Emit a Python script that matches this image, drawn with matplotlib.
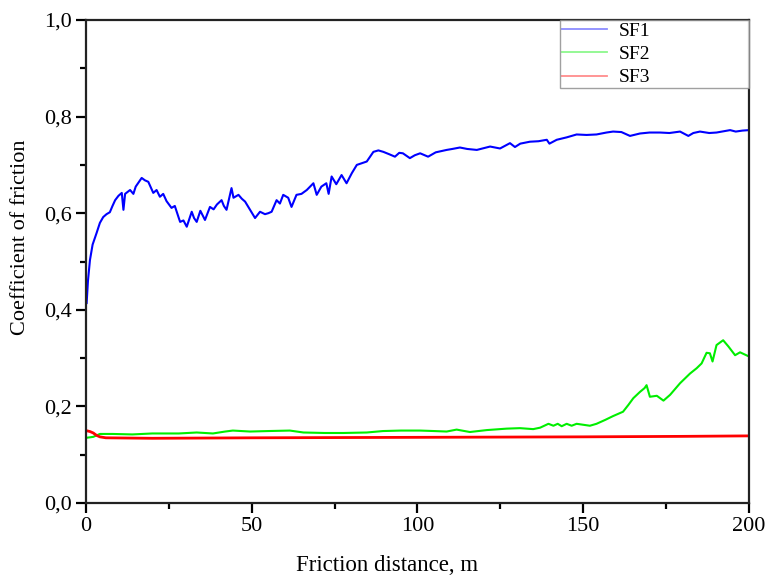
import matplotlib
matplotlib.use("Agg")
import matplotlib.pyplot as plt
from matplotlib.lines import Line2D
from matplotlib.ticker import FuncFormatter, MultipleLocator

# Data
sf1_x = [0.2, 0.6, 1.2, 2.0, 3.2, 4.2, 5.2, 6.2, 7.2, 8.0, 8.8, 9.8, 10.8, 11.3, 11.8,
         13.3, 14.3, 15.0, 16.8, 17.8, 18.8, 20.3, 21.3, 22.3, 23.3, 24.3, 25.8, 26.8,
         28.0, 28.4, 29.4, 30.4, 31.9, 32.6, 33.4, 34.5, 35.9, 37.4, 38.5, 39.5, 40.9,
         41.6, 42.4, 43.9, 44.5, 46.0, 47.0, 48.0, 49.5, 51.0, 52.5, 54.0, 55.0, 56.0,
         57.5, 58.5, 59.5, 61.0, 62.0, 63.5, 65.0, 66.6, 68.6, 69.6, 71.0, 72.5, 73.2,
         74.1, 75.5, 77.1, 78.6, 80.2, 81.7, 83.0, 84.7, 86.7, 88.2, 89.7, 91.5, 93.2,
         94.5, 95.6, 97.7, 99.2, 100.8, 103.2, 105.5, 108.8, 110.5, 112.8, 115.0, 117.9,
         121.9, 124.9, 127.9, 129.4, 131.0, 133.9, 136.5, 139.0, 139.8, 142.0, 145.0,
         148.0, 151.0, 154.0, 157.0, 159.0, 161.5, 164.1, 167.1, 170.0, 173.2, 176.0,
         179.2, 181.7, 183.2, 185.2, 188.0, 190.2, 194.3, 196.0, 198.0, 200.0]
sf1_y = [0.414, 0.46, 0.503, 0.535, 0.559, 0.580, 0.592, 0.598, 0.602, 0.615, 0.627,
         0.636, 0.642, 0.607, 0.640, 0.648, 0.640, 0.655, 0.673, 0.668, 0.665, 0.642,
         0.648, 0.634, 0.640, 0.625, 0.611, 0.615, 0.590, 0.582, 0.585, 0.572, 0.603,
         0.590, 0.582, 0.605, 0.586, 0.613, 0.608, 0.618, 0.627, 0.615, 0.607, 0.652,
         0.632, 0.638, 0.630, 0.624, 0.607, 0.590, 0.603, 0.598, 0.600, 0.603, 0.627,
         0.620, 0.638, 0.632, 0.613, 0.638, 0.640, 0.648, 0.662, 0.638, 0.655, 0.662,
         0.640, 0.676, 0.660, 0.679, 0.662, 0.683, 0.700, 0.703, 0.707, 0.727, 0.730,
         0.727, 0.722, 0.717, 0.725, 0.724, 0.714, 0.720, 0.724, 0.717, 0.726, 0.731,
         0.733, 0.736, 0.733, 0.731, 0.738, 0.734, 0.745, 0.737, 0.744, 0.748, 0.749,
         0.752, 0.744, 0.752, 0.757, 0.763, 0.762, 0.763, 0.767, 0.769, 0.768, 0.760,
         0.765, 0.767, 0.767, 0.766, 0.769, 0.760, 0.766, 0.769, 0.766, 0.767, 0.772,
         0.769, 0.771, 0.772]

sf2_x = [0.0, 1.2, 2.2, 3.2, 4.2, 8.0, 14.0, 20.0, 28.0, 33.4, 38.3, 42.0, 44.3, 49.5,
         55.0, 61.5, 65.6, 72.0, 77.6, 84.7, 89.6, 95.0, 100.8, 105.0, 108.8, 111.8,
         115.8, 120.9, 126.9, 130.9, 134.9, 137.0, 139.5, 141.0, 142.3, 143.5, 145.0,
         146.5, 148.0, 150.0, 152.0, 154.0, 156.6, 159.0, 162.0, 163.6, 165.1, 167.1,
         168.5, 169.1, 170.1, 172.2, 174.2, 176.2, 179.2, 182.2, 184.2, 185.7, 187.2,
         188.2, 189.0, 190.2, 192.2, 193.8, 195.8, 197.3, 199.8]
sf2_y = [0.135, 0.136, 0.137, 0.140, 0.143, 0.143, 0.142, 0.144, 0.144, 0.146, 0.144,
         0.148, 0.150, 0.148, 0.149, 0.150, 0.146, 0.145, 0.145, 0.146, 0.149, 0.150,
         0.150, 0.149, 0.148, 0.152, 0.147, 0.151, 0.154, 0.155, 0.153, 0.156, 0.164,
         0.160, 0.164, 0.159, 0.164, 0.160, 0.164, 0.162, 0.160, 0.164, 0.172, 0.180,
         0.189, 0.203, 0.217, 0.230, 0.238, 0.244, 0.220, 0.222, 0.212, 0.224, 0.248,
         0.268, 0.279, 0.289, 0.311, 0.310, 0.293, 0.327, 0.337, 0.324, 0.306, 0.312,
         0.304]

sf3_x = [0.0, 1.2, 2.2, 3.2, 4.2, 6.0, 20.0, 50.0, 100.0, 150.0, 180.0, 200.0]
sf3_y = [0.150, 0.148, 0.145, 0.140, 0.137, 0.135, 0.134, 0.135, 0.136, 0.137, 0.138, 0.139]

labels = ["SF1", "SF2", "SF3"]
colors = ["#0000ff", "#00ee00", "#ff0000"]

plt.rcParams['font.family'] = ['Liberation Serif', 'DejaVu Serif']

fig = plt.figure(figsize=(7.69, 5.76), dpi=100)
ax = fig.add_axes([0.1118, 0.1267, 0.8622, 0.8386])

ax.plot(sf1_x, sf1_y, color=colors[0], lw=1.5)
ax.plot(sf2_x, sf2_y, color=colors[1], lw=1.5)
ax.plot(sf3_x, sf3_y, color=colors[2], lw=2.0)

ax.set_xlim(0, 200)
ax.set_ylim(0, 1.0)
ax.xaxis.set_major_locator(MultipleLocator(50))
ax.xaxis.set_minor_locator(MultipleLocator(25))
ax.yaxis.set_major_locator(MultipleLocator(0.2))
ax.yaxis.set_minor_locator(MultipleLocator(0.1))
ax.yaxis.set_major_formatter(FuncFormatter(lambda v, p: f"{v:.1f}".replace('.', ',')))

for s in ax.spines.values():
    s.set_linewidth(1.6)
    s.set_color('#222222')
ax.tick_params(which='both', direction='out', width=1.6, labelsize=16, top=False, right=False)
ax.tick_params(which='major', length=7, pad=3)
ax.tick_params(which='minor', length=4)

ax.set_xlabel("Friction distance, m", fontsize=16.5)
ax.set_ylabel("Coefficient of friction", fontsize=16)
ax.xaxis.set_label_coords(0.454, -0.108)
ax.yaxis.set_label_coords(-0.085, 0.55)

handles = [Line2D([], [], color=c, lw=1.3, alpha=0.45) for c in colors]
leg = ax.legend(handles, labels, loc='upper left', bbox_to_anchor=(0.715, 1.0, 0.285, 0),
                mode='expand', borderaxespad=0, fancybox=False, fontsize=14,
                handlelength=2.3, labelspacing=0.3, borderpad=0.1, handletextpad=0.6)
leg.get_frame().set_edgecolor('#888888')
leg.get_frame().set_linewidth(1.0)

fig.savefig("out.png", dpi=100)
